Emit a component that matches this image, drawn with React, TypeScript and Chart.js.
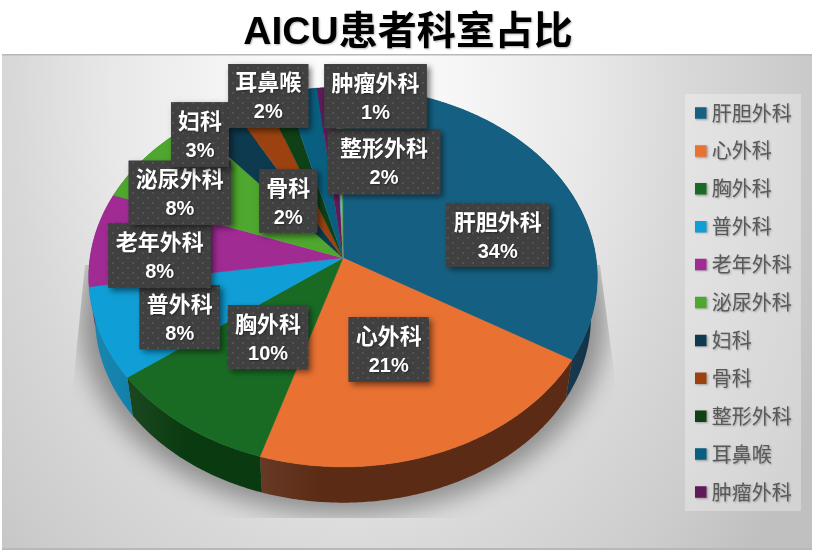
import React, { useEffect, useRef } from "react";
import { Chart, PieController, registerables } from "chart.js";

Chart.register(...registerables);

const categories = ["肝胆外科", "心外科", "胸外科", "普外科", "老年外科", "泌尿外科", "妇科", "骨科", "整形外科", "耳鼻喉", "肿瘤外科", "", "", ""];
const values = [33.6, 21.2, 10.0, 7.8, 8.0, 8.3, 3.1, 2.45, 1.55, 2.2, 1.2, 0.2, 0.2, 0.2];

const colors = ["#156082", "#E97132", "#196B24", "#0F9ED5", "#A02B93", "#4EA72E", "#0D3A4E", "#9C4210", "#0F4016", "#095F80", "#601A58", "#4da1c4", "#ed8d5b", "#47a052"];
const wallColors = ["#062a40", "#5c2b15", "#0a3a10", "#0b7eaa", "#5c1a55", "#2a6a18", "#062030", "#5c2608", "#082a0c", "#053c52", "#3a1036", "#2a6a80", "#8a5030", "#2a6030"];

// x, y, w, h of each data label, same order as categories
const labelBoxes = [
  [446.3, 203.3, 102.7, 63.4],
  [348.6, 317, 80.3, 64.7],
  [227.9, 305, 80.3, 64.3],
  [139.6, 285, 80.4, 64.3],
  [108.3, 223.3, 102.7, 64.4],
  [128.7, 160.7, 102.3, 64.3],
  [171, 102.3, 58, 64.4],
  [259.3, 169.3, 58, 63.4],
  [327.7, 129, 112.6, 65.3],
  [228.3, 64, 80, 63.7],
  [324.3, 64, 102.4, 64.3],
];

const FONT = '"Liberation Sans", "Noto Sans CJK SC", sans-serif';

// pie is seen in perspective, so the apex is not the centre of the ellipse
const APEX_X = 343;
const APEX_Y = 258;
const RX = 253;
const RY = 188;
const PERSP = 0.1;
const BASE_SCALE = 0.975;
const DEPTH = 41;

function topPoint(angle: number) {
  const u = Math.cos(angle);
  const v = Math.sin(angle);
  const w = 1 - PERSP * v;
  return [(RX * u) / w, (RY * v) / w];
}

function pointOn(angle: number, base: boolean) {
  const [x, y] = topPoint(angle);
  if (base) return [APEX_X + x * BASE_SCALE, APEX_Y + y * BASE_SCALE + DEPTH];
  return [APEX_X + x, APEX_Y + y];
}

function traceArc(ctx: any, start: number, end: number, base: boolean, first: boolean) {
  const steps = Math.max(2, Math.ceil(Math.abs(end - start) / 0.01));
  for (let i = 0; i <= steps; i++) {
    const [x, y] = pointOn(start + ((end - start) * i) / steps, base);
    if (i === 0 && first) ctx.moveTo(x, y);
    else ctx.lineTo(x, y);
  }
}

function dotPattern(ctx: any) {
  const tile = document.createElement("canvas");
  tile.width = 10;
  tile.height = 10;
  const t = tile.getContext("2d") as any;
  t.fillStyle = "#404040";
  t.fillRect(0, 0, 10, 10);
  t.fillStyle = "#525252";
  t.fillRect(2, 2, 2, 2);
  t.fillRect(7, 7, 2, 2);
  return ctx.createPattern(tile, "repeat");
}

const pie3d = {
  id: "pie3d",
  beforeDraw(chart: any) {
    const ctx = chart.ctx;
    ctx.save();
    ctx.fillStyle = "#ffffff";
    ctx.fillRect(0, 0, 816, 552);
    ctx.beginPath();
    ctx.rect(2, 54, 810, 495);
    ctx.clip();
    ctx.translate(350, 90);
    ctx.scale(520, 728);
    const g = ctx.createRadialGradient(0, 0, 0, 0, 0, 1);
    g.addColorStop(0, "#ffffff");
    g.addColorStop(0.23, "#f5f5f5");
    g.addColorStop(0.46, "#e8e8e8");
    g.addColorStop(0.65, "#d8d8d8");
    g.addColorStop(0.85, "#cccccc");
    g.addColorStop(1, "#c0c0c0");
    ctx.fillStyle = g;
    ctx.fillRect(-2, -2, 4, 4);
    ctx.restore();

    ctx.fillStyle = "#b8b8b8";
    ctx.fillRect(2, 54, 810, 1.5);
    ctx.fillRect(2, 548, 810, 2);

    // legend panel
    ctx.fillStyle = "rgba(255,255,255,0.3)";
    ctx.fillRect(685, 94, 116, 417);

    // title and legend text have a soft shadow
    ctx.shadowColor = "rgba(0,0,0,0.28)";
    ctx.shadowBlur = 2;
    ctx.shadowOffsetX = 1;
    ctx.shadowOffsetY = 1;
  },
  afterLayout(chart: any) {
    const legend = chart.legend;
    legend.left = 681.85;
    legend.top = 85.1;
    legend.bottom = 520;
  },
  beforeDatasetsDraw(chart: any) {
    const ctx = chart.ctx;
    ctx.shadowColor = "transparent";
    ctx.shadowBlur = 0;
    ctx.shadowOffsetX = 0;
    ctx.shadowOffsetY = 0;

    // floor shadow: the shape itself is drawn off the canvas, only its blur lands here
    ctx.save();
    ctx.beginPath();
    ctx.moveTo(85, 265);
    ctx.lineTo(72, 395);
    ctx.lineTo(72, 518);
    ctx.lineTo(617, 518);
    ctx.lineTo(617, 395);
    ctx.lineTo(600, 265);
    ctx.closePath();
    ctx.clip();
    ctx.shadowColor = "rgba(0,0,0,0.36)";
    ctx.shadowBlur = 24;
    ctx.shadowOffsetX = 2000;
    ctx.fillStyle = "#000000";
    ctx.translate(-2000, 0);
    ctx.translate(APEX_X, APEX_Y + DEPTH);
    ctx.scale(1.06, 1.06);
    ctx.translate(-APEX_X, -APEX_Y - DEPTH);
    ctx.beginPath();
    traceArc(ctx, 0, Math.PI * 2, true, true);
    ctx.closePath();
    ctx.fill();
    ctx.restore();

    // side walls
    const arcs = chart.getDatasetMeta(0).data;
    arcs.forEach((arc: any, i: number) => {
      const { startAngle, endAngle } = arc.getProps(["startAngle", "endAngle"], true);
      ctx.beginPath();
      traceArc(ctx, startAngle, endAngle, false, true);
      traceArc(ctx, endAngle, startAngle, true, false);
      ctx.closePath();
      ctx.fillStyle = wallColors[i];
      ctx.fill();
      const xa = pointOn(endAngle, false)[0];
      const sheen = ctx.createLinearGradient(xa, 0, xa + 60, 0);
      sheen.addColorStop(0, "rgba(255,255,255,0.07)");
      sheen.addColorStop(1, "rgba(255,255,255,0)");
      ctx.fillStyle = sheen;
      ctx.fill();
    });
  },
  beforeDatasetDraw(chart: any) {
    const ctx = chart.ctx;
    const arcs = chart.getDatasetMeta(0).data;
    arcs.forEach((arc: any, i: number) => {
      const { startAngle, endAngle } = arc.getProps(["startAngle", "endAngle"], true);
      ctx.beginPath();
      ctx.moveTo(APEX_X, APEX_Y);
      traceArc(ctx, startAngle, endAngle, false, false);
      ctx.closePath();
      ctx.fillStyle = colors[i];
      ctx.strokeStyle = colors[i];
      ctx.lineWidth = 0.4;
      ctx.fill();
      ctx.stroke();
    });
    return false;
  },
  afterDatasetsDraw(chart: any) {
    const ctx = chart.ctx;
    const total = values.reduce((a, b) => a + b, 0);
    const pattern = dotPattern(ctx);
    labelBoxes.forEach(([x, y, w, h], i) => {
      ctx.save();
      ctx.shadowColor = "rgba(0,0,0,0.5)";
      ctx.shadowBlur = 6;
      ctx.shadowOffsetX = 3;
      ctx.shadowOffsetY = 3;
      ctx.fillStyle = "#404040";
      ctx.fillRect(x, y, w, h);
      ctx.shadowColor = "transparent";
      ctx.fillStyle = pattern;
      ctx.fillRect(x, y, w, h);
      ctx.shadowColor = "rgba(0,0,0,0.4)";
      ctx.shadowBlur = 2;
      ctx.shadowOffsetX = 1;
      ctx.shadowOffsetY = 1;
      ctx.fillStyle = "#ffffff";
      ctx.textAlign = "center";
      ctx.textBaseline = "middle";
      ctx.font = `bold 22px ${FONT}`;
      ctx.fillText(categories[i], x + w / 2, y + h / 2 - 11.5);
      ctx.font = `bold 20px ${FONT}`;
      ctx.fillText(`${Math.round((values[i] / total) * 100)}%`, x + w / 2, y + h / 2 + 17);
      ctx.restore();
    });
  },
};

export default function App() {
  const chartRef = useRef(null) as any;

  useEffect(() => {
    const chart = new Chart(chartRef.current, {
      type: "pie",
      data: {
        labels: categories,
        datasets: [{ data: values, backgroundColor: colors, borderWidth: 0 }],
      },
      plugins: [pie3d],
      options: {
        animation: false,
        responsive: false,
        devicePixelRatio: 1,
        plugins: {
          title: {
            display: true,
            text: "AICU患者科室占比",
            color: "#000000",
            font: { family: FONT, size: 39, weight: "bold" },
            padding: { top: 10, bottom: 0 },
          },
          legend: {
            position: "right",
            align: "start",
            labels: {
              font: { family: '"Noto Sans CJK SC", sans-serif', size: 20 },
              color: "#595959",
              boxWidth: 2,
              boxHeight: 2,
              padding: 17.9,
              filter: (item: any) => item.text !== "",
              generateLabels(chart: any) {
                const items = (PieController as any).overrides.plugins.legend.labels.generateLabels(chart);
                return items.map((item: any) => ({ ...item, strokeStyle: item.fillStyle, lineWidth: 9.5 }));
              },
            },
          },
          tooltip: { enabled: false },
        },
      },
    } as any);
    return () => chart.destroy();
  }, []);

  return (
    <div style={{ position: "absolute", left: 0, top: 0, width: 816, height: 552 }}>
      <canvas ref={chartRef} width={816} height={552} style={{ display: "block" }}></canvas>
    </div>
  );
}
